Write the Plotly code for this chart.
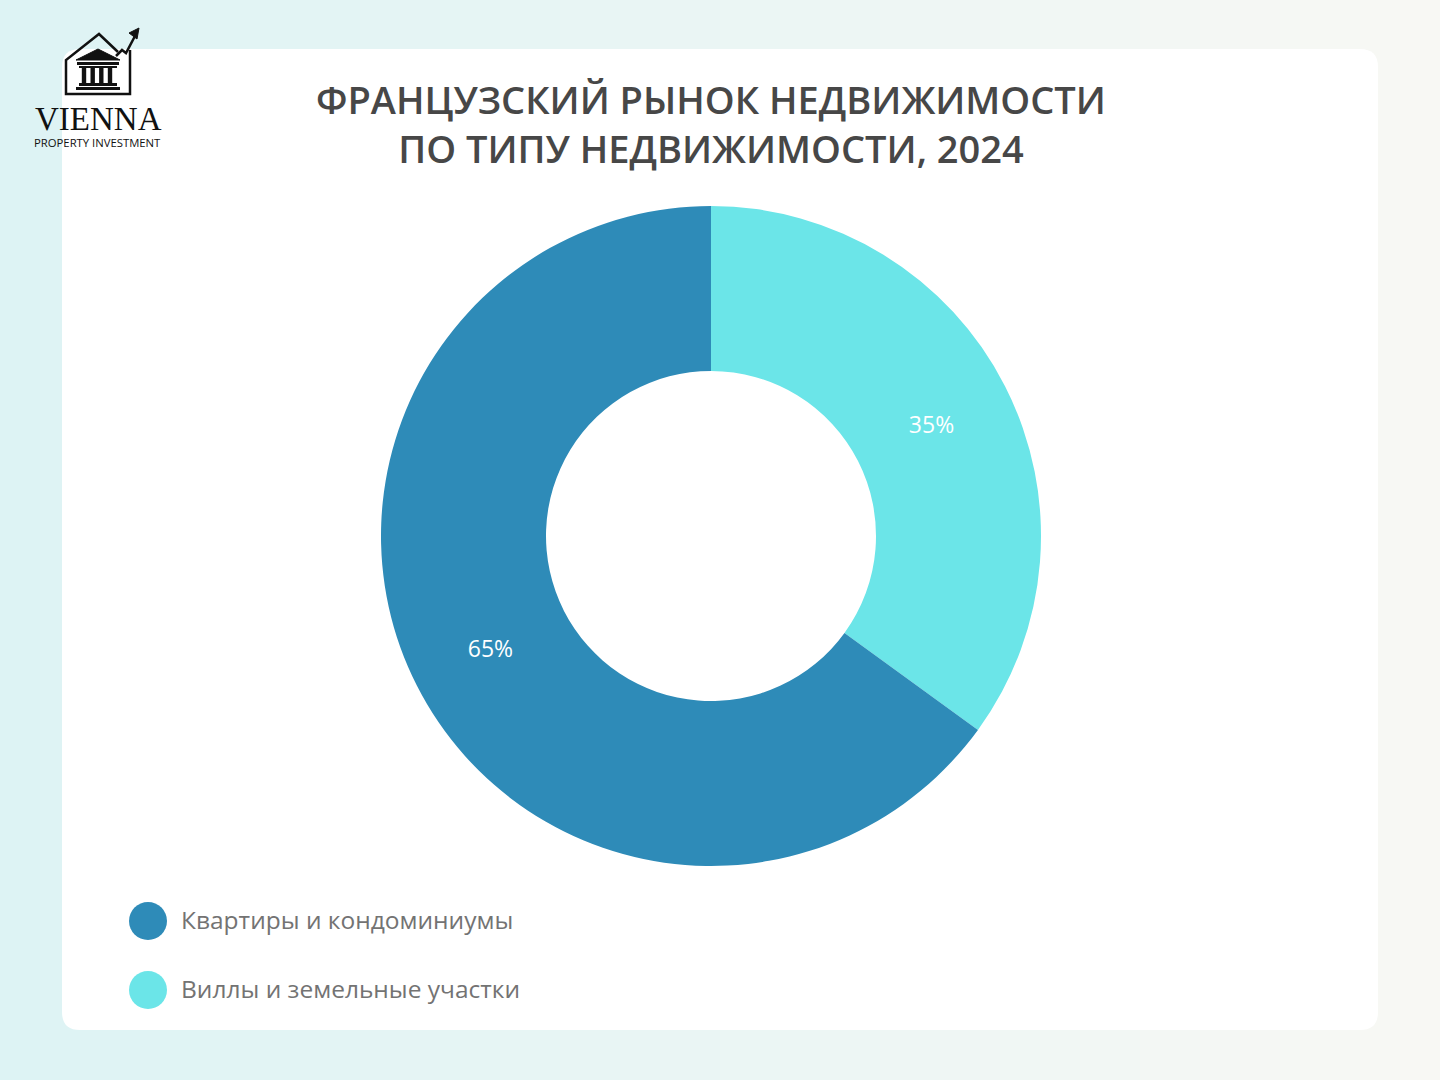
import plotly.graph_objects as go

# ---- data ----
labels = ["Квартиры и кондоминиумы", "Виллы и земельные участки"]
values = [65, 35]
colors = ["#2e8bb8", "#6be5e8"]
title_lines = ["ФРАНЦУЗСКИЙ РЫНОК НЕДВИЖИМОСТИ", "ПО ТИПУ НЕДВИЖИМОСТИ, 2024"]

W, H = 1440, 1080
FONT = "Open Sans"

fig = go.Figure()

# pie (donut): plotly starts the first slice at 12 o'clock going clockwise,
# so the trace lists the slices in reverse to put the smaller one top-right
cx, cy, R = 711, 536, 330
fig.add_trace(go.Pie(
    labels=labels[::-1], values=values[::-1], sort=False, direction="clockwise", rotation=0,
    hole=0.5, marker=dict(colors=colors[::-1], line=dict(width=0)),
    texttemplate="%{percent:.0%}", textposition="inside", insidetextorientation="horizontal",
    textfont=dict(family=FONT, size=23, color="white"),
    domain=dict(x=[(cx - R) / W, (cx + R) / W], y=[(H - cy - R) / H, (H - cy + R) / H]),
    showlegend=False, hoverinfo="label+percent",
))

shapes = []
# background gradient strips
def lerp(a, b, t):
    return int(round(a + (b - a) * t))
c0 = (0xdd, 0xf3, 0xf4)
c1 = (0xf8, 0xf8, 0xf4)
N = 72
for i in range(N):
    t = i / (N - 1)
    col = "rgb(%d,%d,%d)" % tuple(lerp(c0[k], c1[k], t) for k in range(3))
    shapes.append(dict(type="rect", xref="x", yref="y", x0=i * W / N, x1=(i + 1) * W / N + 1,
                       y0=0, y1=H, fillcolor=col, line=dict(width=0), layer="below"))

# white card with rounded corners
x0, x1, y0, y1, r = 62, 1378, 49, 1030, 18
card = (f"M {x0+r},{y0} L {x1-r},{y0} Q {x1},{y0} {x1},{y0+r} L {x1},{y1-r} Q {x1},{y1} {x1-r},{y1} "
        f"L {x0+r},{y1} Q {x0},{y1} {x0},{y1-r} L {x0},{y0+r} Q {x0},{y0} {x0+r},{y0} Z")
shapes.append(dict(type="path", xref="x", yref="y", path=card, fillcolor="white",
                   line=dict(width=0), layer="below"))

# logo drawing
k = "#111111"
shapes.append(dict(type="path", xref="x", yref="y",
                   path="M 118,52 L 99,34 L 66,60 L 66,94 L 130,94 L 130,50",
                   line=dict(color=k, width=2.5), layer="above"))
shapes.append(dict(type="path", xref="x", yref="y",
                   path="M 116,56 L 122,50 L 126,53 L 135,36",
                   line=dict(color=k, width=2.5), layer="above"))
shapes.append(dict(type="path", xref="x", yref="y",
                   path="M 139,28 L 129,33 L 137,39 Z", fillcolor=k, line=dict(color=k, width=1), layer="above"))
# temple
shapes.append(dict(type="path", xref="x", yref="y",
                   path="M 76,60 L 98,49 L 120,60 Z", fillcolor=k, line=dict(color=k, width=1), layer="above"))
shapes.append(dict(type="rect", xref="x", yref="y", x0=77, x1=119, y0=62, y1=65,
                   fillcolor=k, line=dict(width=0), layer="above"))
for xc in (84, 92.7, 101.3, 110):
    shapes.append(dict(type="rect", xref="x", yref="y", x0=xc - 2.2, x1=xc + 2.2, y0=67, y1=84,
                       fillcolor=k, line=dict(width=0), layer="above"))
shapes.append(dict(type="rect", xref="x", yref="y", x0=79, x1=117, y0=66, y1=68,
                   fillcolor=k, line=dict(width=0), layer="above"))
shapes.append(dict(type="rect", xref="x", yref="y", x0=79, x1=117, y0=83, y1=86,
                   fillcolor=k, line=dict(width=0), layer="above"))
shapes.append(dict(type="rect", xref="x", yref="y", x0=76, x1=120, y0=87, y1=90,
                   fillcolor=k, line=dict(width=0), layer="above"))

annotations = []
# title
annotations.append(dict(x=711, y=123, xref="x", yref="y", text="<br>".join(title_lines),
                        showarrow=False, xanchor="center", yanchor="middle", align="center",
                        font=dict(family=FONT, size=38, color="#474747", weight=600)))
# logo text
annotations.append(dict(x=98, y=119, xref="x", yref="y", text="VIENNA", showarrow=False,
                        xanchor="center", yanchor="middle",
                        font=dict(family="Liberation Serif", size=33, color=k)))
annotations.append(dict(x=97.5, y=142, xref="x", yref="y", text="PROPERTY INVESTMENT", showarrow=False,
                        xanchor="center", yanchor="middle",
                        font=dict(family=FONT, size=11.3, color=k)))

# legend (custom circles + text)
leg_y = [921, 990]
for lab, col, ly in zip(labels, colors, leg_y):
    shapes.append(dict(type="circle", xref="x", yref="y", x0=129, x1=167, y0=ly - 19, y1=ly + 19,
                       fillcolor=col, line=dict(width=0), layer="above"))
    annotations.append(dict(x=179, y=ly - 2, xref="x", yref="y", text=lab, showarrow=False,
                            xanchor="left", yanchor="middle",
                            font=dict(family=FONT, size=24.5, color="#737373")))

fig.update_layout(
    width=W, height=H, margin=dict(l=0, r=0, t=0, b=0),
    paper_bgcolor="white", plot_bgcolor="rgba(0,0,0,0)",
    xaxis=dict(range=[0, W], visible=False, fixedrange=True, domain=[0, 1]),
    yaxis=dict(range=[H, 0], visible=False, fixedrange=True, domain=[0, 1]),
    shapes=shapes, annotations=annotations, showlegend=False,
)

fig.write_html("out.html", config={"displayModeBar": False},
               post_script="document.body.style.margin='0';")
